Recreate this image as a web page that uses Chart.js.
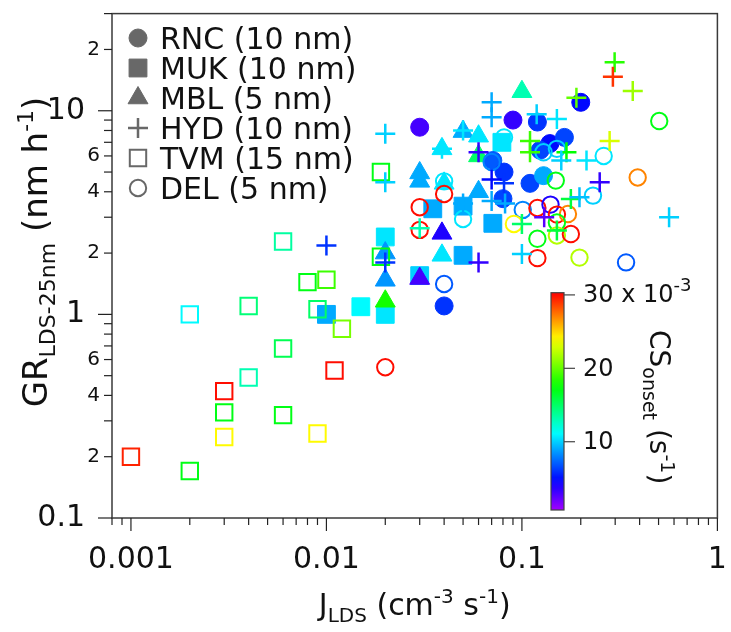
<!DOCTYPE html>
<html>
<head>
<meta charset="utf-8">
<script src="https://cdn.jsdelivr.net/npm/chart.js@4.4.1/dist/chart.umd.min.js"></script>
<style>
    html, body { margin: 0; padding: 0; background: #fff; }
    #wrap { width: 731px; height: 632px; }
</style>
</head>
<body>
<div id="wrap"><canvas id="grafico" width="731" height="632"></canvas></div>
<script>
// ==================== DATA ====================
// J_LDS (cm-3 s-1), GR (nm h-1) and CS_onset (x 10^-3 s-1), one set of arrays per site.
const RNC_J  = [0.030, 0.090, 0.120, 0.200, 0.139, 0.165, 0.124, 0.071, 0.081, 0.110, 0.129, 0.080, 0.040];
const RNC_GR = [8.3, 9.0, 8.8, 11.0, 6.9, 7.4, 6.4, 5.7, 5.0, 4.4, 4.8, 3.7, 1.1];
const RNC_CS = [3, 3.5, 6, 5, 5, 6.5, 6.5, 7, 6, 6.5, 9, 6.5, 6];

const MUK_J  = [0.010, 0.015, 0.020, 0.020, 0.030, 0.050, 0.035, 0.050, 0.071, 0.079];
const MUK_GR = [1.0, 1.09, 1.0, 2.4, 1.55, 1.95, 3.3, 3.4, 2.8, 7.0];
const MUK_CS = [9, 11, 10.5, 10.5, 10, 9, 9, 9, 9, 10.5];

const MBL_J  = [0.100, 0.050, 0.060, 0.060, 0.039, 0.030, 0.030, 0.060, 0.040, 0.039, 0.039, 0.030, 0.020, 0.020, 0.020];
const MBL_GR = [12.4, 7.9, 7.5, 6.0, 6.5, 4.95, 4.5, 4.0, 4.4, 2.5, 1.95, 1.5, 2.0, 1.47, 1.16];
const MBL_CS = [13, 9, 10.5, 15, 10.5, 9, 9, 9, 10.5, 4, 10.5, 3, 8.5, 8.5, 18];

const HYD_J  = [0.020, 0.020, 0.010, 0.020, 0.070, 0.070, 0.119, 0.151, 0.050, 0.039, 0.060, 0.110,
                0.110, 0.190, 0.298, 0.292, 0.369, 0.281, 0.169, 0.159, 0.214, 0.250, 0.070, 0.081,
                0.070, 0.082, 0.050, 0.030, 0.100, 0.100, 0.130, 0.151, 0.178, 0.197, 0.566, 0.060];
const HYD_GR = [7.7, 4.45, 2.18, 1.8, 11.0, 9.3, 9.6, 9.1, 8.0, 6.5, 6.25, 7.1,
                6.25, 11.6, 17.3, 14.7, 12.5, 7.1, 6.25, 5.7, 5.7, 4.45, 4.6, 4.4,
                3.6, 3.5, 3.5, 2.65, 2.78, 1.98, 3.0, 2.58, 3.69, 3.76, 3.0, 1.8];
const HYD_CS = [10, 10, 6, 6, 9, 9, 10, 10.5, 10.5, 10.5, 3.5, 19,
                19, 20, 18.5, 29, 21.5, 23, 17.5, 10, 10.5, 3.5, 5, 6,
                9, 9, 9, 13, 15, 10, 2.5, 16, 16, 9.5, 10, 3.5];

const TVM_J  = [0.001, 0.002, 0.003, 0.003, 0.003, 0.002, 0.004, 0.004, 0.006, 0.006, 0.006, 0.008, 0.010, 0.009, 0.012, 0.011, 0.009, 0.019, 0.019];
const TVM_GR = [0.20, 0.17, 0.42, 0.33, 0.25, 1.0, 1.1, 0.49, 2.28, 0.68, 0.32, 1.44, 1.48, 1.06, 0.85, 0.53, 0.26, 1.92, 5.0];
const TVM_CS = [29.5, 17, 30, 17, 24, 11, 14.5, 13, 13.5, 15.5, 17, 17, 19, 15, 20.5, 30, 24, 17, 17];

const DEL_J  = [0.081, 0.070, 0.040, 0.040, 0.030, 0.030, 0.050, 0.129, 0.151, 0.149, 0.262, 0.391, 0.504, 0.231, 0.101,
                0.120, 0.140, 0.151, 0.172, 0.091, 0.151, 0.151, 0.120, 0.178, 0.197, 0.120, 0.341, 0.040, 0.020];
const DEL_GR = [7.4, 5.6, 4.5, 3.9, 3.36, 2.6, 2.94, 6.25, 6.5, 4.54, 6.0, 4.7, 8.9, 3.83, 3.26,
                3.33, 3.46, 3.09, 3.11, 2.78, 2.83, 2.44, 2.35, 2.48, 1.9, 1.89, 1.8, 1.41, 0.55];
const DEL_CS = [10.5, 8, 10.5, 30, 30, 30, 10.5, 10, 10, 17, 10.5, 27, 17, 10, 8,
                30, 4, 30, 27, 24, 17, 22, 17, 30, 22, 30, 7, 7, 30];

// Axis ranges and tick values
const X_MIN = 0.0008, X_MAX = 1;
const Y_MIN = 0.1, Y_MAX = 30;
const X_TICKS = [0.0008, 0.0009,
    0.001, 0.002, 0.003, 0.004, 0.005, 0.006, 0.007, 0.008, 0.009,
    0.01, 0.02, 0.03, 0.04, 0.05, 0.06, 0.07, 0.08, 0.09,
    0.1, 0.2, 0.3, 0.4, 0.5, 0.6, 0.7, 0.8, 0.9, 1];
const X_LABELS = { 0.001: '0.001', 0.01: '0.01', 0.1: '0.1', 1: '1' };
const Y_TICKS = [0.1, 0.2, 0.3, 0.4, 0.5, 0.6, 0.7, 0.8, 0.9,
    1, 2, 3, 4, 5, 6, 7, 8, 9, 10, 20, 30];
const Y_LABELS = { 0.1: '0.1', 0.2: '2', 0.4: '4', 0.6: '6', 1: '1', 2: '2', 4: '4', 6: '6', 10: '10', 20: '2' };

// Colour scale CS_onset (x 10^-3 s-1)
const CS_MIN = 0.7, CS_MAX = 30.3;
const CS_TICKS = [10, 20, 30];

// ==================== STYLE ====================
const FONT = "'DejaVu Sans', sans-serif";
const GRIS_LEYENDA = '#686868';

function colorCS(v) {
    const t = Math.min(1, Math.max(0, (CS_MAX - v) / (CS_MAX - CS_MIN)));
    return `hsl(${Math.round(t * 278)}, 100%, 50%)`;
}

function esDecada(v) {
    const l = Math.log10(v);
    return Math.abs(l - Math.round(l)) < 1e-6;
}

function aPuntos(js, grs) {
    return js.map((j, i) => ({ x: j, y: grs[i] }));
}

// legend order = order of this list; "order" is the drawing order (0 on top)
const SITIOS = [
    { label: 'RNC (10 nm)', j: RNC_J, gr: RNC_GR, cs: RNC_CS, style: 'circle',   r: 9,    bw: 1,   lleno: true,  order: 3 },
    { label: 'MUK (10 nm)', j: MUK_J, gr: MUK_GR, cs: MUK_CS, style: 'rect',     r: 12.6, bw: 1,   lleno: true,  order: 5 },
    { label: 'MBL (5 nm)',  j: MBL_J, gr: MBL_GR, cs: MBL_CS, style: 'triangle', r: 11.5, bw: 1,   lleno: true,  order: 4 },
    { label: 'HYD (10 nm)', j: HYD_J, gr: HYD_GR, cs: HYD_CS, style: 'cross',    r: 10,   bw: 2.5, lleno: false, order: 0 },
    { label: 'TVM (15 nm)', j: TVM_J, gr: TVM_GR, cs: TVM_CS, style: 'rect',     r: 11.6, bw: 2,   lleno: false, order: 2 },
    { label: 'DEL (5 nm)',  j: DEL_J, gr: DEL_GR, cs: DEL_CS, style: 'circle',   r: 8.2,  bw: 2,   lleno: false, order: 1 },
];

const datasets = SITIOS.map(s => {
    const cols = s.cs.map(colorCS);
    return {
        label: s.label,
        data: aPuntos(s.j, s.gr),
        pointStyle: s.style,
        pointRadius: s.r,
        pointHoverRadius: s.r,
        pointBorderWidth: s.bw,
        pointBackgroundColor: s.lleno ? cols : 'rgba(0,0,0,0)',
        pointBorderColor: cols,
        showLine: false,
        order: s.order,
    };
});

// ==================== DECORATION ====================
function textoRico(ctx, partes, x, y, align) {
    let total = 0;
    partes.forEach(p => {
        ctx.font = `${p.size}px ${FONT}`;
        p.w = ctx.measureText(p.t).width;
        total += p.w;
    });
    let cx = align === 'center' ? x - total / 2 : x;
    partes.forEach(p => {
        ctx.font = `${p.size}px ${FONT}`;
        ctx.fillText(p.t, cx, y + (p.dy || 0));
        cx += p.w;
    });
}

const decorado = {
    id: 'decorado',
    afterDraw(chart) {
        const { ctx, chartArea: a, scales: { x, y } } = chart;
        ctx.save();

        // frame
        ctx.strokeStyle = '#3a3a3a';
        ctx.lineWidth = 1.5;
        ctx.strokeRect(a.left, a.top, a.right - a.left, a.bottom - a.top);

        // ticks (outside), decades longer
        ctx.lineWidth = 1.2;
        ctx.strokeStyle = '#222';
        x.ticks.forEach(t => {
            const px = x.getPixelForValue(t.value);
            const len = esDecada(t.value) ? 13 : 7;
            ctx.beginPath();
            ctx.moveTo(px, a.bottom);
            ctx.lineTo(px, a.bottom + len);
            ctx.stroke();
        });
        y.ticks.forEach(t => {
            const py = y.getPixelForValue(t.value);
            const len = esDecada(t.value) ? 14 : 8;
            ctx.beginPath();
            ctx.moveTo(a.left - len, py);
            ctx.lineTo(a.left, py);
            ctx.stroke();
        });

        // axis titles
        ctx.fillStyle = '#111';
        ctx.textBaseline = 'alphabetic';
        textoRico(ctx, [
            { t: 'J', size: 30 },
            { t: 'LDS', size: 20, dy: 7 },
            { t: ' (cm', size: 30 },
            { t: '-3', size: 20, dy: -12 },
            { t: ' s', size: 30 },
            { t: '-1', size: 20, dy: -12 },
            { t: ')', size: 30 },
        ], (a.left + a.right) / 2, 615, 'center');

        ctx.save();
        ctx.translate(47, 252);
        ctx.rotate(-Math.PI / 2);
        textoRico(ctx, [
            { t: 'GR', size: 34 },
            { t: 'LDS-25nm', size: 22, dy: 8 },
            { t: ' (nm h', size: 34 },
            { t: '-1', size: 22, dy: -14 },
            { t: ')', size: 34 },
        ], 0, 0, 'center');
        ctx.restore();

        // legend
        const leyX = 138, leyY0 = 38, leyDY = 30;
        SITIOS.forEach((s, i) => {
            const ly = leyY0 + i * leyDY;
            ctx.fillStyle = s.lleno ? GRIS_LEYENDA : 'rgba(0,0,0,0)';
            ctx.strokeStyle = GRIS_LEYENDA;
            ctx.lineWidth = s.bw;
            Chart.helpers.drawPoint(ctx, { pointStyle: s.style, radius: s.r, borderWidth: s.bw, rotation: 0 }, leyX, ly);
            ctx.fillStyle = '#111';
            ctx.font = `30px ${FONT}`;
            ctx.fillText(s.label, 160, ly + 11);
        });

        // colour bar
        const cb = { x: 551, w: 13, top: 292.7, bottom: 510 };
        const cbY = v => cb.bottom - (v - CS_MIN) / (CS_MAX - CS_MIN) * (cb.bottom - cb.top);
        const grad = ctx.createLinearGradient(0, cb.bottom, 0, cb.top);
        for (let k = 0; k <= 20; k++) {
            const v = CS_MIN + (CS_MAX - CS_MIN) * k / 20;
            grad.addColorStop(k / 20, colorCS(v));
        }
        ctx.fillStyle = grad;
        ctx.fillRect(cb.x, cb.top, cb.w, cb.bottom - cb.top);
        ctx.strokeStyle = '#444';
        ctx.lineWidth = 1.2;
        ctx.strokeRect(cb.x, cb.top, cb.w, cb.bottom - cb.top);
        ctx.fillStyle = '#111';
        ctx.textBaseline = 'middle';
        CS_TICKS.forEach(v => {
            const py = cbY(v);
            ctx.beginPath();
            ctx.moveTo(cb.x + cb.w, py);
            ctx.lineTo(cb.x + cb.w + 11, py);
            ctx.stroke();
            if (v === 30) {
                textoRico(ctx, [{ t: '30 x 10', size: 24 }, { t: '-3', size: 18, dy: -10 }], 583, py + 1, 'left');
            } else {
                textoRico(ctx, [{ t: String(v), size: 24 }], 583, py + 1, 'left');
            }
        });

        ctx.textBaseline = 'alphabetic';
        ctx.save();
        ctx.translate(650, 330);
        ctx.rotate(Math.PI / 2);
        textoRico(ctx, [
            { t: 'CS', size: 28 },
            { t: 'onset', size: 19, dy: 7 },
            { t: ' (s', size: 28 },
            { t: '-1', size: 19, dy: -11 },
            { t: ')', size: 28 },
        ], 0, 0, 'left');
        ctx.restore();

        ctx.restore();
    },
};

// ==================== CHART ====================
new Chart(document.getElementById('grafico'), {
    type: 'scatter',
    data: { datasets },
    options: {
        responsive: false,
        devicePixelRatio: 1,
        animation: false,
        layout: { padding: { left: 0, top: 13, right: 9, bottom: 0 } },
        plugins: { legend: { display: false }, tooltip: { enabled: false } },
        scales: {
            x: {
                type: 'logarithmic',
                min: X_MIN,
                max: X_MAX,
                border: { display: false },
                grid: { display: false, drawTicks: false },
                afterBuildTicks: s => { s.ticks = X_TICKS.map(v => ({ value: v })); },
                afterFit: s => { s.height = 114; s.paddingLeft = 0; s.paddingRight = 0; },
                ticks: {
                    autoSkip: false,
                    maxRotation: 0,
                    padding: 24,
                    color: '#111',
                    font: { family: FONT, size: 30 },
                    callback: v => X_LABELS[v] || '',
                },
            },
            y: {
                type: 'logarithmic',
                min: Y_MIN,
                max: Y_MAX,
                border: { display: false },
                grid: { display: false, drawTicks: false },
                afterBuildTicks: s => { s.ticks = Y_TICKS.map(v => ({ value: v })); },
                afterFit: s => { s.width = 112; s.paddingTop = 0; s.paddingBottom = 0; },
                ticks: {
                    autoSkip: false,
                    padding: 12,
                    color: '#111',
                    font: c => ({ family: FONT, size: esDecada(c.tick.value) ? 30 : 20 }),
                    callback: v => {
                        const lab = Y_LABELS[v];
                        if (!lab) return '';
                        return esDecada(v) ? lab + '\u2002' : lab;
                    },
                },
            },
        },
    },
    plugins: [decorado],
});
</script>
</body>
</html>
